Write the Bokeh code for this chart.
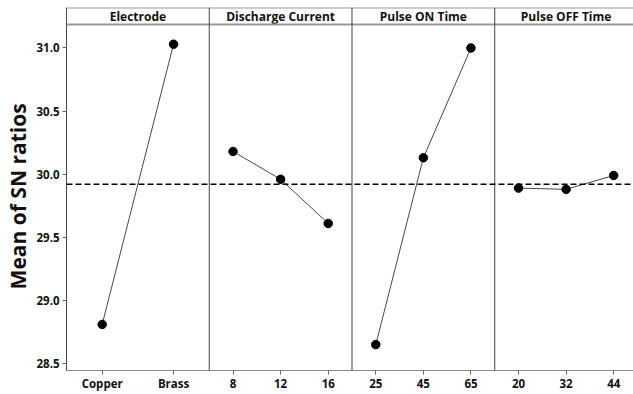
import math
from bokeh.plotting import figure
from bokeh.layouts import row
from bokeh.models import Range1d, Span, FixedTicker, NumeralTickFormatter, ColumnDataSource
from bokeh.embed import file_html
from bokeh.resources import INLINE
from bokeh.core.properties import value

factors = ["Electrode", "Discharge Current", "Pulse ON Time", "Pulse OFF Time"]
levels = [["Copper", "Brass"], ["8", "12", "16"], ["25", "45", "65"], ["20", "32", "44"]]
means = [[28.81, 31.03], [30.18, 29.96, 29.61], [28.65, 30.13, 31.00], [29.89, 29.88, 29.99]]
grand_mean = 29.92
y_ticks = [28.5, 29.0, 29.5, 30.0, 30.5, 31.0]
y_title = "Mean of SN ratios"

FONT = "Open Sans"
W, H = 633, 394
TITLE_W = 33
LEFT = 65 - TITLE_W
TOP = 7
PANEL_PX = 143
FRAME_W = W - TITLE_W - LEFT
HDR_PX = 17
DATA_PX = 346
BOTTOM = H - TOP - HDR_PX - DATA_PX
npan = len(factors)

y0, y1 = 28.445, 31.186
px_per_unit = DATA_PX / (y1 - y0)

# y-axis title panel (pixel coordinates)
t = figure(width=TITLE_W, height=H, x_range=Range1d(0, TITLE_W), y_range=Range1d(0, H),
           output_backend="svg", toolbar_location=None,
           min_border_left=0, min_border_right=0, min_border_top=0, min_border_bottom=0)
t.axis.visible = False
t.grid.visible = False
t.outline_line_color = None
t.text(x=[17.5], y=[H - 205], text=[y_title], angle=math.pi / 2, text_align="center",
       text_baseline="middle", text_font=value(FONT), text_font_style="bold",
       text_font_size="21px", text_color="#111111")

p = figure(width=W - TITLE_W, height=H,
           x_range=Range1d(0, FRAME_W / PANEL_PX),
           y_range=Range1d(y0, y1 + HDR_PX / px_per_unit),
           output_backend="svg", toolbar_location=None,
           min_border_left=LEFT, min_border_right=0, min_border_top=TOP,
           min_border_bottom=BOTTOM)
p.extra_y_ranges = {"hdr": Range1d(-DATA_PX / HDR_PX, 1)}
p.grid.visible = False
p.outline_line_color = None

# header strip
src_h = ColumnDataSource(dict(x=[k + 0.5 for k in range(npan)], y=[0.5] * npan, t=factors))
p.text("x", "y", text="t", source=src_h, y_range_name="hdr", text_align="center",
       text_baseline="middle", text_font=value(FONT), text_font_style="bold",
       text_font_size="12px", text_color="#111111")
p.add_layout(Span(location=1, dimension="width", y_range_name="hdr",
                  line_color="#999999", line_width=2))
p.add_layout(Span(location=0, dimension="width", y_range_name="hdr",
                  line_color="#999999", line_width=2))
for k in range(1, npan):
    p.add_layout(Span(location=k, dimension="height", line_color="#444444", line_width=1))

# data
tick_pos, tick_lab = [], []
for k in range(npan):
    n = len(levels[k])
    xs = [k + (i + 0.5) / n for i in range(n)]
    src = ColumnDataSource(dict(x=xs, y=means[k]))
    p.line("x", "y", source=src, line_color="#333333", line_width=0.9)
    p.scatter("x", "y", source=src, size=8.5, color="black")
    tick_pos += xs
    tick_lab += levels[k]

p.add_layout(Span(location=grand_mean, dimension="width", line_color="black",
                  line_width=1.5, line_dash="6 3"))

# axes
p.xaxis.ticker = FixedTicker(ticks=tick_pos)
p.xaxis.major_label_overrides = dict(zip(tick_pos, tick_lab))
p.xaxis.major_label_standoff = 1
p.yaxis.ticker = FixedTicker(ticks=y_ticks)
p.yaxis.formatter = NumeralTickFormatter(format="0.0")
p.axis.minor_tick_line_color = None
p.axis.major_tick_in = 0
p.axis.major_tick_out = 4
p.xaxis.axis_line_color = "#888888"
p.yaxis.axis_line_color = "#444444"
p.axis.major_tick_line_color = "#666666"
p.axis.major_label_text_font = FONT
p.axis.major_label_text_font_style = "bold"
p.axis.major_label_text_font_size = "11.5px"
p.axis.major_label_text_color = "#111111"
p.yaxis.major_label_standoff = 3

layout = row(t, p, spacing=0)
open("out.html", "w").write(file_html(layout, INLINE))
